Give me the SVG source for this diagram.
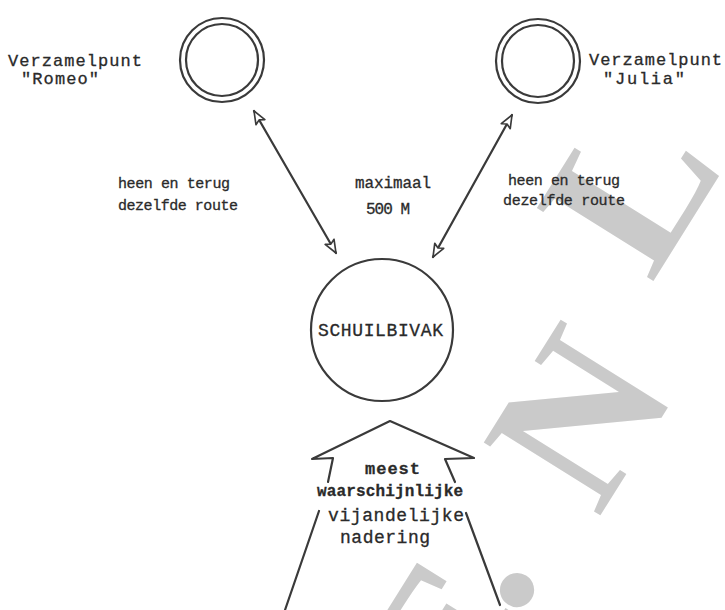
<svg xmlns="http://www.w3.org/2000/svg" width="725" height="610" viewBox="0 0 725 610">
<defs>
<style>
.t{font-family:"Liberation Mono","DejaVu Sans Mono",monospace;font-size:16px;fill:#2a2a2a;stroke:#2a2a2a;stroke-width:0.3}
.ln{stroke:#3a3a3a;stroke-width:2.2;fill:none;stroke-linecap:round;stroke-linejoin:round}
.wm{font-family:"Liberation Serif",serif;font-weight:bold;font-size:210px;fill:#cacaca;text-anchor:middle}
</style>
<marker id="ah" viewBox="0 0 12 10" refX="11" refY="5" markerWidth="7" markerHeight="6" orient="auto-start-reverse" markerUnits="strokeWidth">
<path d="M1,1 L11,5 L1,9 L3,5 z" fill="#ffffff" stroke="#3a3a3a" stroke-width="1.3" stroke-linejoin="round"/>
</marker>
</defs>
<rect width="725" height="610" fill="#ffffff"/>
<g id="watermark">
<text class="wm" transform="translate(448,642) rotate(-58)" y="69">E</text>
<text class="wm" transform="translate(517,590) rotate(-58)" y="14">.</text>
<text class="wm" transform="translate(580,418) rotate(-58)" y="69">N</text>
<text class="wm" transform="translate(630,188) rotate(-58)" y="69">L</text>
</g>
<g id="romeo">
<circle cx="222" cy="60" r="42" class="ln"/>
<circle cx="222" cy="60" r="36" class="ln"/>
<text class="t" x="8" y="66" style="font-size:17px" textLength="134">Verzamelpunt</text>
<text class="t" x="21" y="84" style="font-size:17px" textLength="78">"Romeo"</text>
</g>
<g id="julia">
<circle cx="538" cy="61" r="42" class="ln"/>
<circle cx="538" cy="61" r="36" class="ln"/>
<text class="t" x="589" y="65" style="font-size:17px" textLength="133">Verzamelpunt</text>
<text class="t" x="603" y="84" style="font-size:17px" textLength="82">"Julia"</text>
</g>
<g id="schuilbivak">
<circle cx="382" cy="330" r="71" class="ln"/>
<text class="t" x="318" y="336" style="font-size:18px" textLength="125">SCHUILBIVAK</text>
</g>
<g id="connectors">
<line x1="254" y1="111" x2="336" y2="253" class="ln" marker-start="url(#ah)" marker-end="url(#ah)"/>
<line x1="512" y1="115" x2="433" y2="257" class="ln" marker-start="url(#ah)" marker-end="url(#ah)"/>
</g>
<g id="labels">
<text class="t" x="118" y="188" style="font-size:15px" textLength="112">heen en terug</text>
<text class="t" x="118" y="210" style="font-size:15px" textLength="120">dezelfde route</text>
<text class="t" x="355" y="188" style="font-size:16px" textLength="76">maximaal</text>
<text class="t" x="366" y="214" style="font-size:16px" textLength="44">500 M</text>
<text class="t" x="508" y="185" style="font-size:15px" textLength="112">heen en terug</text>
<text class="t" x="503" y="205" style="font-size:15px" textLength="122">dezelfde route</text>
</g>
<g id="approach">
<path class="ln" d="M328,482 L333,458 L312,459 L390,421 L474,458 L445,459 L455,482"/>
<line x1="319" y1="511" x2="285" y2="610" class="ln"/>
<line x1="466" y1="513" x2="500" y2="605" class="ln"/>
<text class="t" x="365" y="474" textLength="55" style="font-size:17px;font-weight:bold">meest</text>
<text class="t" x="317" y="496" textLength="146" style="font-size:16px;font-weight:bold">waarschijnlijke</text>
<text class="t" x="328" y="521" textLength="136" style="font-size:18px">vijandelijke</text>
<text class="t" x="340" y="543" textLength="90" style="font-size:18px">nadering</text>
</g>
</svg>
